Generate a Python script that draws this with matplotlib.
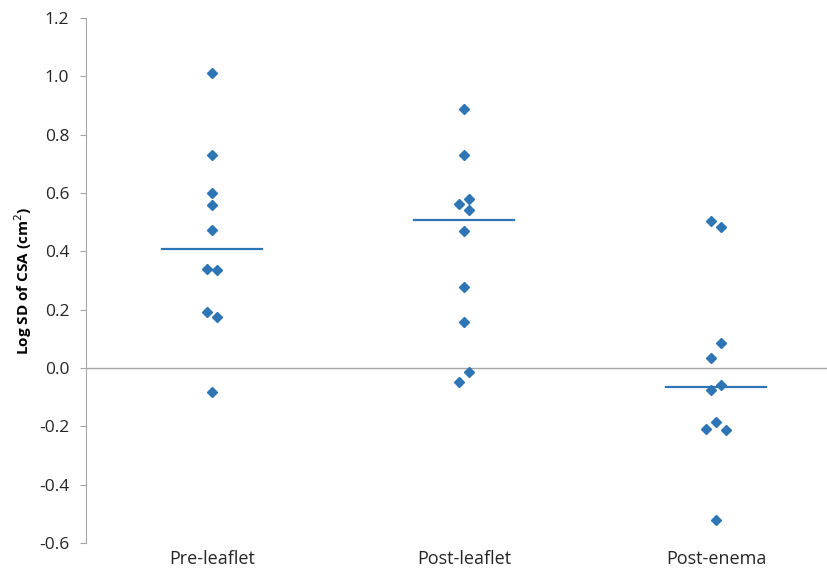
import numpy as np
import matplotlib.pyplot as plt

plt.rcParams['font.family'] = ['Open Sans', 'DejaVu Sans']

# categories and values
groups = ['Pre-leaflet', 'Post-leaflet', 'Post-enema']
pre_leaflet = [1.011, 0.730, 0.599, 0.559, 0.473, 0.340, 0.336, 0.193, 0.176, -0.081]
post_leaflet = [0.888, 0.731, 0.579, 0.562, 0.542, 0.470, 0.279, 0.159, -0.015, -0.049]
post_enema = [0.505, 0.482, 0.085, 0.035, -0.057, -0.074, -0.185, -0.210, -0.213, -0.520]

# horizontal scatter of points that would overlap (category units)
pre_offsets = [0, 0, 0, 0, 0, -0.02, 0.02, -0.02, 0.02, 0]
post_offsets = [0, 0, 0.02, -0.02, 0.02, 0, 0, 0, 0.02, -0.02]
enema_offsets = [-0.02, 0.02, 0.02, -0.02, 0.02, -0.02, 0, -0.04, 0.04, 0]

yticks = [-0.6, -0.4, -0.2, 0.0, 0.2, 0.4, 0.6, 0.8, 1.0, 1.2]

blue = '#2E75B6'
grey = '#A6A6A6'

fig = plt.figure(figsize=(8.28, 5.74), dpi=100)
ax = fig.add_axes([86 / 828, 31 / 574, 1 - 86 / 828, 525 / 574])

all_data = [pre_leaflet, post_leaflet, post_enema]
all_offsets = [pre_offsets, post_offsets, enema_offsets]
for i, (vals, offs) in enumerate(zip(all_data, all_offsets)):
    pos = i + 1
    ax.plot(pos + np.array(offs), vals, linestyle='none', marker='D',
            markersize=5.5, color=blue, zorder=3)
    # horizontal bar at the group median
    med = np.median(vals)
    ax.plot([pos - 0.2, pos + 0.2], [med, med], color=blue, lw=1.6, zorder=3)

ax.axhline(0, color=grey, lw=1, zorder=1)

ax.set_xlim(0.5, 0.5 + 742 / 252)
ax.set_ylim(-0.6, 1.2)
ax.set_yticks(yticks)
ax.set_yticklabels(['%.1f' % t for t in yticks], fontsize=12.5, color='#262626')
ax.tick_params(axis='y', direction='out', length=4, color=grey, pad=8)

ax.set_xticks([1, 2, 3])
ax.set_xticklabels(groups, fontsize=13, color='#262626')
ax.tick_params(axis='x', length=0, pad=5)

for side in ['top', 'right', 'bottom']:
    ax.spines[side].set_visible(False)
ax.spines['left'].set_color(grey)

ax.set_ylabel('Log SD of CSA (cm$^2$)', fontsize=11, fontweight='bold', labelpad=4)

fig.savefig('out.png', dpi=100)
